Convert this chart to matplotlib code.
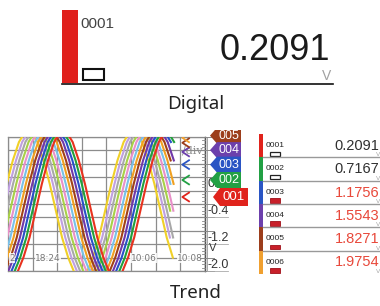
import matplotlib
matplotlib.use('Agg')
import matplotlib.pyplot as plt
from matplotlib.patches import Rectangle, Polygon

# --- data -------------------------------------------------------------
channels = ['001', '002', '003', '004', '005', '006']
list_labels = ['0001', '0002', '0003', '0004', '0005', '0006']
values = [0.2091, 0.7167, 1.1756, 1.5543, 1.8271, 1.9754]
value_text = ['0.2091', '0.7167', '1.1756', '1.5543', '1.8271', '1.9754']
alarm = [False, False, True, True, True, True]
ch_colors = ['#e0231c', '#22a044', '#2a55c4', '#6c40ac', '#9c3e1c', '#f0a030']

# trend traces, most lagging (red) first
trace_colors = ['#e8321e', '#22a03c', '#2850c8', '#7038a8', '#a04018', '#f0a020',
                '#78c0e8', '#e890c8', '#a8d048', '#a8a8a8', '#c0a0e0', '#f0d028']
trace_lags = [0.0, 0.13, 0.26, 0.39, 0.52, 0.65, 0.78, 0.91, 1.04, 1.17, 1.3, 1.43]  # div
# one period of the red trace, read every 0.25 div starting at the trough (V)
wave = [-2.2, -2.05, -1.6, -1.0, -0.2, 0.6, 1.3, 1.85, 2.15,
        2.15, 1.85, 1.3, 0.6, -0.2, -1.0, -1.6, -2.05]
wave_step = 0.25
red_trough = 0.125
trace_end = 6.75

time_labels = ['2', '18:24', '10:06', '10:08']
time_pos = [0.05, 1.63, 5.5, 7.4]
scale_vals = [0.4, -0.4, -1.2, -2.0]
scale_labels = ['0.4', '-0.4', '-1.2', '-2.0']

W, H = 380, 306
fig = plt.figure(figsize=(W / 100, H / 100), dpi=100)

# trend plot area in pixels: x 8..205, y 137..271
tl, tr, tt, tb = 8, 205, 137, 271
trend = fig.add_axes([tl / W, 1 - tb / H, (tr - tl) / W, (tb - tt) / H])
trend.set_xlim(0, 8)
trend.set_ylim(-2, 2)
trend.set_xticks(range(9))
trend.set_yticks([-2 + 0.4 * i for i in range(11)])
trend.tick_params(length=0, labelbottom=False, labelleft=False)
trend.grid(True, color='#8c8c8c', lw=0.9)
for s in trend.spines.values():
    s.set_color('#8c8c8c')
    s.set_linewidth(0.9)

n = len(wave)
for i in range(len(trace_colors) - 1, -1, -1):
    start = red_trough - trace_lags[i] - 2 * n * wave_step
    xs, ys = [], []
    for k in range(4 * n):
        x = start + k * wave_step
        if -0.6 <= x <= trace_end:
            xs.append(x)
            ys.append(wave[k % n])
    trend.plot(xs, ys, color=trace_colors[i], lw=1.5, solid_joinstyle='round', zorder=3)

# current value chevrons
for v, c in zip(values, ch_colors):
    trend.plot([7.35, 7.08, 7.35], [v + 0.13, v, v - 0.13], color=c, lw=1.3, zorder=4)
trend.text(7.5, 1.6, '/div', color='#8a8a8a', fontsize=8, family='DejaVu Serif',
           ha='center', va='center', zorder=2)

for lab, x in zip(time_labels, time_pos):
    trend.text(x, -1.62, lab, color='#777777', fontsize=6.5, ha='left' if lab == '2' else 'center',
               va='center', zorder=5, clip_on=True,
               bbox=dict(fc='white', ec='none', pad=0.4, alpha=0.85))

# --- overlay in pixel coordinates ------------------------------------
over = fig.add_axes([0, 0, 1, 1], zorder=5)
over.set_xlim(0, W)
over.set_ylim(H, 0)
over.axis('off')
over.patch.set_alpha(0)

def to_px(v):
    return H - trend.transData.transform((0, v))[1]

# right-hand scale
over.plot([tr, tr], [tt, tb], color='#555555', lw=1)
over.plot([tr + 2, tr + 2], [tt, tb], color='#999999', lw=0.6)
for k in range(41):
    v = -2 + 0.1 * k
    y = to_px(v)
    if k % 4 == 0:
        over.plot([tr - 5, tr + 9], [y, y], color='#888888', lw=0.7)
    else:
        over.plot([tr - 3, tr], [y, y], color='#888888', lw=0.6)
for v, lab in zip(scale_vals, scale_labels):
    y = to_px(v)
    over.text(207.5, y - 0.5, lab, fontsize=9, family='Liberation Sans', color='#333333',
              ha='left', va='bottom')
    over.plot([207, 228], [y, y], color='#aaaaaa', lw=0.6)
over.text(209, 248, 'V', fontsize=8, family='Liberation Sans', color='#333333',
          ha='left', va='center')

# channel flags, 001 on top
clip = Polygon([(195, 130), (265, 130), (265, 280), (195, 280)], closed=True,
               transform=over.transData)
flag_y = []
for i, v in enumerate(values):
    y = to_px(v)
    if i > 0:
        y = min(y, flag_y[-1] - 14.5)
    flag_y.append(y)
for i in range(len(channels) - 1, -1, -1):
    y = flag_y[i]
    if i == 0:
        xl, xr, h, fs = 213, 248, 9, 9.5
    else:
        xl, xr, h, fs = 210, 241, 8, 9
    poly = Polygon([(xl, y), (xl + 7, y - h), (xr, y - h), (xr, y + h), (xl + 7, y + h)],
                   closed=True, fc=ch_colors[i], ec='none', zorder=10 - i)
    over.add_patch(poly)
    poly.set_clip_path(clip)
    t = over.text((xl + 7 + xr) / 2, y, channels[i], color='white', fontsize=fs,
                  family='Liberation Sans', ha='center', va='center', zorder=10 - i)
    t.set_clip_path(clip)

# digital list
row_top, row_h = 134, 23.3
for i in range(len(channels)):
    y0 = row_top + i * row_h
    over.add_patch(Rectangle((259, y0), 4, row_h, fc=ch_colors[i], ec='none'))
    over.text(265.5, y0 + 13, list_labels[i], fontsize=6, family='Liberation Sans',
              color='#222222', ha='left', va='baseline')
    if alarm[i]:
        over.add_patch(Rectangle((270, y0 + 17.5), 10, 4.5, fc='#c8202a', ec='#a01018', lw=0.6))
    else:
        over.add_patch(Rectangle((270, y0 + 17.5), 10, 4.5, fc='white', ec='#222222', lw=0.9))
    over.text(379, y0 + 16, value_text[i], fontsize=10.5, family='Liberation Sans',
              color='#e8483a' if alarm[i] else '#303030', ha='right', va='baseline')
    over.text(380, y0 + 22.5, 'V', fontsize=4.5, color='#aaaaaa', ha='right', va='baseline')
    if i < len(channels) - 1:
        over.plot([263, 380], [y0 + row_h, y0 + row_h], color='#999999', lw=1)

# big digital view
over.add_patch(Rectangle((62, 10), 16, 73, fc='#e0201c', ec='none'))
over.text(80, 28.5, list_labels[0], fontsize=11, family='Liberation Sans', color='#444444',
          ha='left', va='baseline')
over.text(330, 60.5, value_text[0], fontsize=26, family='Liberation Sans', color='#1a1a1a',
          ha='right', va='baseline')
over.text(331, 80, 'V', fontsize=10, family='Liberation Sans', color='#a0a0a0',
          ha='right', va='baseline')
over.add_patch(Rectangle((83, 69), 21, 11, fc='white', ec='#111111', lw=1.5))
over.plot([62, 333], [83.5, 83.5], color='#111111', lw=1.2)

over.text(196, 104, 'Digital', fontsize=13.5, family='Noto Sans', color='#222222',
          ha='center', va='center')
over.text(196, 293, 'Trend', fontsize=13.5, family='Noto Sans', color='#222222',
          ha='center', va='center')

fig.savefig('out.png', dpi=100, facecolor='white')
